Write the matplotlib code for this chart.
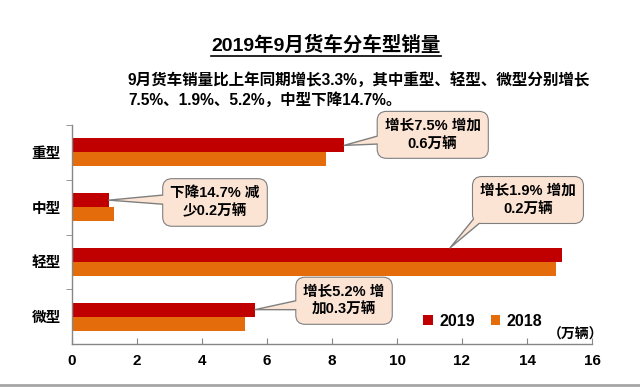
import matplotlib
matplotlib.use("Agg")
import matplotlib.pyplot as plt
from matplotlib.lines import Line2D

plt.rcParams['font.family'] = ['Liberation Sans', 'Noto Sans CJK SC']
plt.rcParams['font.weight'] = 'bold'

categories = ['重型', '中型', '轻型', '微型']
v2019 = [8.37, 1.13, 15.08, 5.63]
v2018 = [7.80, 1.30, 14.89, 5.32]
series_names = ['2019', '2018']
xticks = [0, 2, 4, 6, 8, 10, 12, 14, 16]
title = '2019年9月货车分车型销量'
subtitle = '9月货车销量比上年同期增长3.3%，其中重型、轻型、微型分别增长\n7.5%、1.9%、5.2%，中型下降14.7%。'
callouts = ['增长7.5% 增加\n0.6万辆', '下降14.7% 减\n少0.2万辆', '增长1.9% 增加\n0.2万辆', '增长5.2% 增\n加0.3万辆']
unit = '（万辆）'

c19 = '#C00000'
c18 = '#E46C0A'
axis_c = '#868686'
box_fc = '#FCE4D4'
box_ec = '#7F7F7F'

W, H = 640, 388
fig = plt.figure(figsize=(W / 100, H / 100), dpi=100)
ax = fig.add_axes([72 / W, 1 - 344 / H, 520 / W, 219 / H])

bh = 0.255
ys = list(range(len(categories)))
ax.barh([y - bh / 2 for y in ys], v2019, height=bh, color=c19, label=series_names[0], zorder=2)
ax.barh([y + bh / 2 for y in ys], v2018, height=bh, color=c18, label=series_names[1], zorder=2)

ax.set_xlim(0, 16)
ax.set_ylim(len(categories) - 0.5, -0.5)
ax.set_xticks(xticks)
ax.set_xticklabels([str(t) for t in xticks], fontsize=11, fontweight='bold')
ax.set_yticks(ys)
ax.set_yticklabels(categories, fontsize=10.5, fontweight='bold')
ax.tick_params(axis='y', length=0, pad=8)
ax.tick_params(axis='x', direction='in', length=4, color=axis_c, pad=7)
# category boundary ticks on y axis
ax.set_yticks([y + 0.5 for y in ys[:-1]] + [-0.5], minor=True)
ax.tick_params(axis='y', which='minor', length=4, color=axis_c, direction='out')
for s in ['top', 'right']:
    ax.spines[s].set_visible(False)
for s in ['left', 'bottom']:
    ax.spines[s].set_color(axis_c)
    ax.spines[s].set_linewidth(1.0)

# callout boxes (centre positions in data units) and wedge start points
box_pos = [(11.1, -0.32), (4.4, 0.915), (14.03, 0.87), (8.37, 2.71)]
wedge_start = [(10.0, -0.28), (3.4, 0.86), (13.2, 0.80), (7.4, 2.76)]
tail_w = [0.9, 0.9, 1.0, 0.9]
for i, txt in enumerate(callouts):
    tip = (v2019[i], ys[i] - bh / 2)
    if i == 2:
        tip = (11.63, ys[i] - bh)
    kw = dict(ha='center', va='center', fontsize=10.5, fontweight='bold',
              multialignment='center', linespacing=1.35)
    ax.annotate(txt, xy=box_pos[i], xycoords='data', zorder=5,
                bbox=dict(boxstyle='round,pad=0.48,rounding_size=0.6', fc=box_fc, ec=box_ec, lw=1.6), **kw)
    ax.annotate('', xy=tip, xytext=wedge_start[i], xycoords='data', zorder=6,
                arrowprops=dict(arrowstyle='wedge,tail_width=%g' % tail_w[i], fc=box_fc, ec=box_ec,
                                lw=1.0, shrinkA=0, shrinkB=0))
    ax.annotate(txt, xy=box_pos[i], xycoords='data', zorder=7,
                bbox=dict(boxstyle='round,pad=0.48,rounding_size=0.6', fc=box_fc, ec='none', lw=0), **kw)

leg = ax.legend(loc='center', bbox_to_anchor=(0.79, 0.105), ncol=2, frameon=False,
                handlelength=0.6, handleheight=0.6, handletextpad=0.4, columnspacing=1.0,
                prop={'size': 11.5, 'weight': 'bold'})

ax.text(1.022, 0.045, unit, transform=ax.transAxes, ha='right', va='center', fontsize=10, fontweight='bold')

t = fig.text(326 / W, 1 - 45 / H, title, ha='center', va='center', fontsize=14, fontweight='bold')
fig.text(128 / W, 1 - 90 / H, subtitle, ha='left', va='center', fontsize=11.2, fontweight='bold', linespacing=1.4)

fig.canvas.draw()
bb = t.get_window_extent()
fig.add_artist(Line2D([bb.x0 / W, bb.x1 / W], [(bb.y0 - 1) / H, (bb.y0 - 1) / H],
                      transform=fig.transFigure, color='black', lw=1.2))
fig.add_artist(Line2D([0, 1], [1 - 385 / H, 1 - 385 / H], transform=fig.transFigure, color='#A6A6A6', lw=2))

fig.savefig('out.png', dpi=100)
